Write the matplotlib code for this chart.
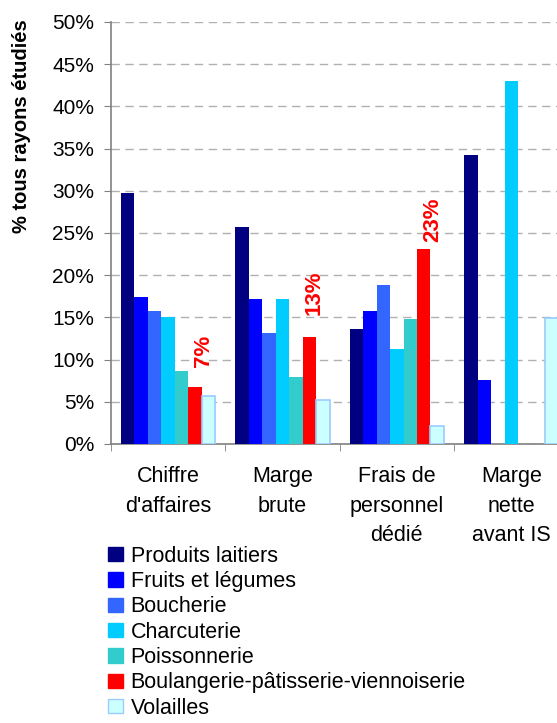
import numpy as np
import matplotlib
matplotlib.use("Agg")
import matplotlib.pyplot as plt
from matplotlib.patches import Patch
from matplotlib.ticker import MultipleLocator, PercentFormatter

plt.rcParams.update({
    "font.family": ["Liberation Sans", "DejaVu Sans"],
    "font.size": 15.5,
})

categories = ["Chiffre\nd'affaires", "Marge\nbrute", "Frais de\npersonnel\ndédié", "Marge\nnette\navant IS"]
series_names = ["Produits laitiers", "Fruits et légumes", "Boucherie", "Charcuterie",
                "Poissonnerie", "Boulangerie-pâtisserie-viennoiserie", "Volailles"]
values = {
    "Produits laitiers": [29.7, 25.7, 13.6, 34.2],
    "Fruits et légumes": [17.4, 17.2, 15.8, 7.6],
    "Boucherie": [15.8, 13.2, 18.8, 0.0],
    "Charcuterie": [15.1, 17.2, 11.3, 43.0],
    "Poissonnerie": [8.7, 7.9, 14.8, 0.0],
    "Boulangerie-pâtisserie-viennoiserie": [6.8, 12.7, 23.1, 0.0],
    "Volailles": [5.7, 5.2, 2.1, 14.9],
}
# red call-out labels on the bakery bars (first three groups)
callouts = ["7%", "13%", "23%"]

colors = ["#000080", "#0000FF", "#3366FF", "#00CCFF", "#33CCCC", "#FF0000", "#CCFFFF"]
edges = [None, None, None, None, None, None, "#99CCFF"]
callout_offsets = [20, 22, 7]   # px gap above bar top
callout_dx = [9, 5, 9]          # px shift right of bar centre

fig = plt.figure(figsize=(5.57, 7.23), dpi=100)
ax = fig.add_axes([0.1988, 0.3859, 0.8218, 0.5837])

w = 1.0 / 8.5
x = np.arange(len(categories))
for i, name in enumerate(series_names):
    pos = x - 0.5 + 0.75 * w + i * w + w / 2
    kw = dict(color=colors[i], width=w, zorder=3)
    if edges[i]:
        kw.update(edgecolor=edges[i], linewidth=1.2)
    ax.bar(pos, values[name], **kw)
    if name.startswith("Boulangerie"):
        for j, lab in enumerate(callouts):
            ax.annotate(lab, (pos[j], values[name][j]),
                        xytext=(callout_dx[j] * 0.72, callout_offsets[j] * 0.72),
                        textcoords="offset points",
                        rotation=90, ha="center", va="bottom", color="#FF0000",
                        fontweight="bold", fontsize=16)

ax.set_xlim(-0.5, len(categories) - 0.5)
ax.set_ylim(0, 50)
ax.yaxis.set_major_locator(MultipleLocator(5))
ax.yaxis.set_major_formatter(PercentFormatter(decimals=0))
ax.grid(axis="y", color="#b0b0b0", linestyle=(0, (6, 4)), linewidth=1, zorder=0)
ax.set_axisbelow(True)

ax.set_xticks(x)
ax.set_xticklabels(categories, linespacing=1.52, va="top")
ax.set_xticks(np.arange(len(categories) + 1) - 0.5, minor=True)
ax.tick_params(axis="x", which="major", length=0, pad=16)
ax.tick_params(axis="x", which="minor", length=5, color="#808080", direction="out")
ax.tick_params(axis="y", length=5, color="#808080", direction="out", pad=7, labelsize=15)

for s in ["top", "right"]:
    ax.spines[s].set_visible(False)
for s in ["left", "bottom"]:
    ax.spines[s].set_color("#808080")
    ax.spines[s].set_linewidth(1.2)

fig.text(0.038, 0.826, "% tous rayons étudiés", rotation=90, ha="center", va="center",
         fontweight="bold", fontsize=14.5)

handles = [Patch(facecolor=c, edgecolor=(e if e else c)) for c, e in zip(colors, edges)]
fig.legend(handles, series_names, loc="upper left", bbox_to_anchor=(0.194, 0.245),
           frameon=False, handlelength=0.7, handleheight=0.65, handletextpad=0.35,
           labelspacing=0.2, borderpad=0, borderaxespad=0, fontsize=15.5)

fig.savefig("out.png", dpi=100)
